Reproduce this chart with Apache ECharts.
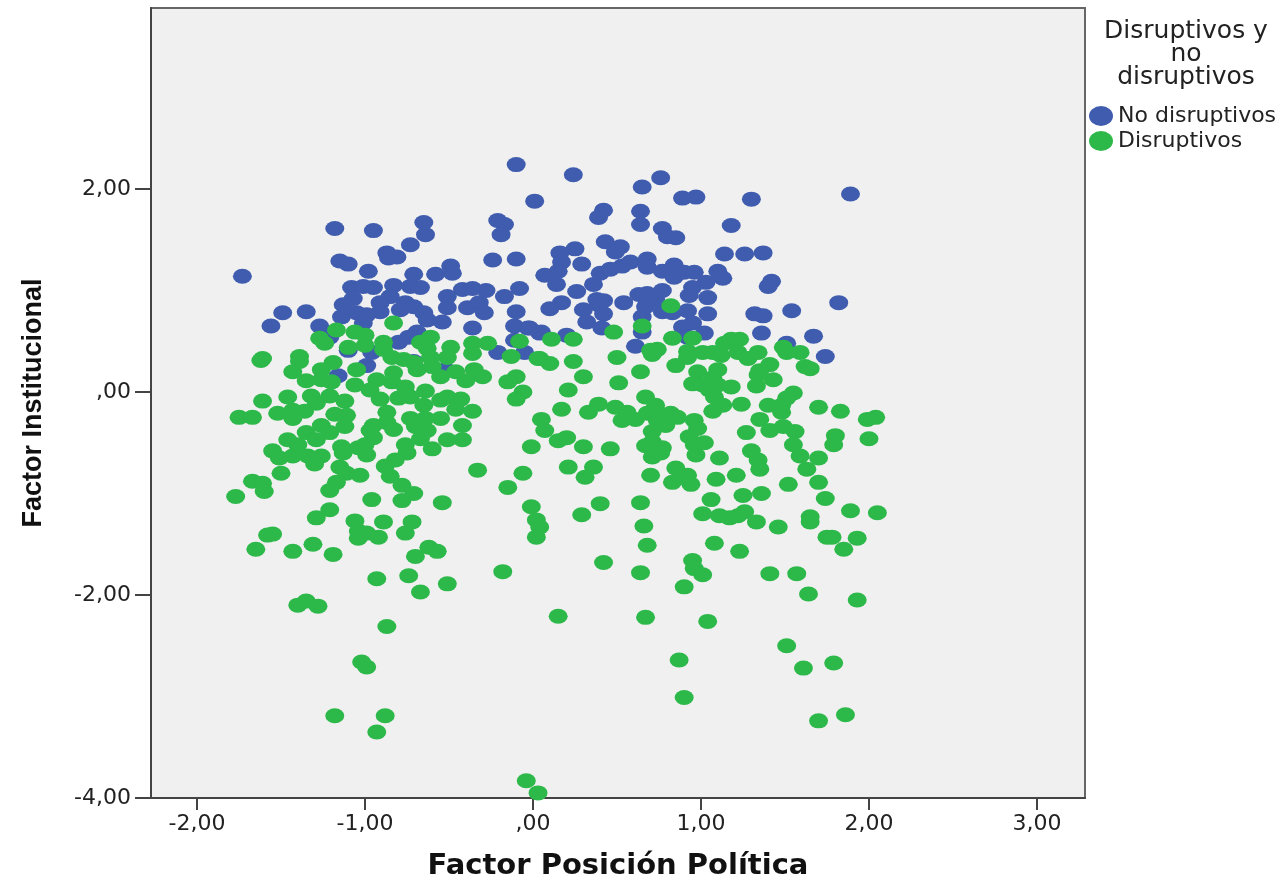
<!DOCTYPE html>
<html><head><meta charset="utf-8">
<style>html,body{margin:0;padding:0;background:#fff}#c{width:1286px;height:881px}</style>
<script src="https://cdn.jsdelivr.net/npm/echarts@6/dist/echarts.min.js"></script>
</head><body><div id="c"></div>
<script>
const xTicks=[-2,-1,0,1,2,3];
const yTicks=[-4,-2,0,2];
const tickText={'-4':'-4,00','-2':'-2,00','-1':'-1,00','0':',00','1':'1,00','2':'2,00','3':'3,00'};
const seriesNames=['No disruptivos','Disruptivos'];
const noDisruptivos=[[-0.10,2.24],[0.01,1.88],[-1.18,1.61],[-0.95,1.59],[-0.65,1.67],[-0.64,1.55],[-0.73,1.45],[-0.21,1.69],[-0.17,1.65],[-0.19,1.55],[-0.87,1.37],[-0.86,1.32],[-0.81,1.33],[-1.15,1.29],[-1.10,1.26],[-0.24,1.30],[-0.10,1.31],[-0.98,1.19],[-0.49,1.24],[-0.48,1.17],[-0.58,1.16],[-0.71,1.16],[-1.73,1.14],[-0.08,1.02],[-0.83,1.05],[-0.73,1.04],[-0.67,1.03],[-1.08,1.03],[-1.01,1.04],[-0.95,1.03],[-0.42,1.01],[-0.36,1.02],[-0.28,1.00],[-0.17,0.94],[-0.51,0.94],[-1.07,0.92],[-1.13,0.86],[-0.85,0.94],[-0.76,0.88],[-0.91,0.88],[-0.91,0.79],[-0.79,0.81],[-0.71,0.84],[-0.65,0.78],[-0.51,0.83],[-0.39,0.83],[-0.32,0.88],[-0.29,0.78],[-0.10,0.79],[-1.14,0.74],[-1.05,0.78],[-0.99,0.76],[-0.63,0.71],[-0.54,0.69],[-1.01,0.68],[-1.49,0.78],[-1.35,0.79],[-1.56,0.65],[-1.27,0.65],[-0.36,0.63],[-0.11,0.65],[-0.03,0.63],[0.04,0.58],[-0.69,0.59],[-0.74,0.54],[-0.11,0.51],[-0.80,0.49],[-0.21,0.39],[-0.05,0.39],[-1.10,0.41],[-0.96,0.39],[-0.99,0.26],[-1.16,0.16],[-0.52,0.22],[-0.71,0.30],[-1.21,0.54],
[0.24,2.14],[0.65,2.02],[0.76,2.11],[0.89,1.91],[0.97,1.92],[1.30,1.90],[1.89,1.95],[0.42,1.79],[0.39,1.72],[0.64,1.78],[0.64,1.65],[1.18,1.64],[0.77,1.61],[0.80,1.53],[0.85,1.52],[0.43,1.48],[0.52,1.43],[0.49,1.38],[0.25,1.41],[0.16,1.37],[0.17,1.28],[0.29,1.26],[1.14,1.36],[1.26,1.36],[1.37,1.37],[0.07,1.15],[0.15,1.19],[0.14,1.06],[0.26,0.99],[0.36,1.06],[0.40,1.17],[0.46,1.21],[0.53,1.24],[0.58,1.28],[0.68,1.31],[0.68,1.23],[0.77,1.19],[0.84,1.25],[0.84,1.13],[0.90,1.18],[0.96,1.18],[1.10,1.19],[1.13,1.12],[1.03,1.08],[0.95,1.03],[0.93,0.95],[1.04,0.93],[1.42,1.09],[1.40,1.04],[1.82,0.88],[0.77,1.00],[0.68,0.97],[0.63,0.96],[0.68,0.88],[0.73,0.91],[0.77,0.79],[0.83,0.78],[0.67,0.84],[0.92,0.80],[1.04,0.77],[0.38,0.91],[0.42,0.90],[0.39,0.86],[0.54,0.88],[0.17,0.88],[0.10,0.82],[0.30,0.81],[0.42,0.77],[0.32,0.69],[0.41,0.63],[0.65,0.74],[0.65,0.59],[0.89,0.64],[0.95,0.68],[1.02,0.58],[1.32,0.77],[1.37,0.75],[1.54,0.80],[1.36,0.58],[1.67,0.55],[1.51,0.48],[1.74,0.35],[0.61,0.45],[0.20,0.56],[0.05,0.59],[-0.02,0.63],[1.19,0.51],[0.92,0.54]];
const disruptivos=[[0.48,0.59],[0.65,0.65],[0.82,0.85],[0.11,0.52],[0.24,0.52],[0.83,0.53],[0.95,0.53],[1.14,0.48],[1.18,0.52],[1.23,0.52],[1.49,0.44],[1.59,0.39],[1.51,0.39],[0.70,0.41],[0.74,0.42],[0.71,0.37],[0.50,0.34],[0.04,0.33],[0.10,0.28],[0.24,0.30],[0.92,0.40],[0.92,0.34],[1.01,0.39],[1.07,0.39],[1.12,0.36],[1.22,0.39],[1.28,0.33],[1.34,0.39],[0.85,0.26],[0.64,0.20],[0.30,0.15],[0.51,0.09],[0.21,0.02],[0.98,0.20],[1.10,0.22],[1.07,0.14],[0.95,0.08],[1.01,0.07],[1.10,0.07],[1.18,0.05],[1.05,0.02],[1.08,-0.05],[1.13,-0.13],[1.24,-0.12],[1.07,-0.19],[1.41,0.27],[1.35,0.21],[1.43,0.12],[1.33,0.06],[1.34,0.17],[1.62,0.25],[1.65,0.23],[0.67,-0.05],[1.55,-0.01],[1.51,-0.06],[1.40,-0.13],[1.48,-0.13],[1.48,-0.20],[1.70,-0.15],[1.83,-0.19],[1.99,-0.27],[2.04,-0.25],[2.00,-0.46],[1.80,-0.43],[1.79,-0.52],[1.35,-0.27],[1.41,-0.38],[1.49,-0.34],[1.56,-0.39],[1.55,-0.52],[1.59,-0.63],[1.70,-0.65],[1.63,-0.76],[1.27,-0.40],[1.30,-0.58],[1.34,-0.67],[1.35,-0.76],[1.21,-0.82],[1.11,-0.65],[1.09,-0.86],[1.52,-0.91],[1.70,-0.89],[1.36,-1.00],[1.25,-1.02],[1.06,-1.06],[1.74,-1.05],
[0.49,-0.15],[0.39,-0.12],[0.33,-0.20],[0.17,-0.17],[0.05,-0.27],[0.07,-0.38],[0.20,-0.45],[0.15,-0.48],[0.30,-0.54],[0.46,-0.56],[-0.01,-0.54],[0.21,-0.74],[0.36,-0.74],[0.31,-0.84],[0.70,-0.82],[0.85,-0.75],[0.92,-0.82],[0.83,-0.89],[0.94,-0.91],[0.88,-0.84],[0.56,-0.20],[0.53,-0.28],[0.61,-0.27],[0.73,-0.13],[0.68,-0.21],[0.74,-0.20],[0.82,-0.21],[0.86,-0.25],[0.96,-0.28],[0.74,-0.28],[0.79,-0.33],[0.98,-0.36],[0.71,-0.39],[0.93,-0.44],[1.02,-0.50],[0.96,-0.52],[0.67,-0.53],[0.71,-0.49],[0.77,-0.55],[0.71,-0.64],[0.76,-0.60],[0.97,-0.62],
[-0.83,0.68],[-1.17,0.61],[-1.27,0.53],[-1.24,0.48],[-1.06,0.59],[-1.00,0.56],[-1.10,0.44],[-1.00,0.46],[-0.89,0.49],[-0.89,0.42],[-0.84,0.34],[-0.77,0.32],[-0.67,0.49],[-0.61,0.54],[-0.63,0.43],[-0.49,0.44],[-0.36,0.48],[-0.27,0.48],[-0.36,0.38],[-0.08,0.50],[-0.13,0.35],[0.03,0.33],[-0.51,0.34],[-0.61,0.34],[-1.62,0.31],[-1.61,0.33],[-1.39,0.35],[-1.39,0.30],[-1.19,0.29],[-1.26,0.22],[-1.43,0.20],[-1.05,0.22],[-1.35,0.11],[-1.26,0.12],[-1.20,0.10],[-0.69,0.22],[-0.71,0.29],[-0.60,0.25],[-0.83,0.19],[-0.46,0.20],[-0.55,0.15],[-0.35,0.22],[-0.30,0.15],[-0.40,0.11],[-0.10,0.15],[-0.15,0.10],[-0.06,0.00],[-0.10,-0.07],[-1.06,0.07],[-0.93,0.12],[-0.84,0.10],[-0.97,0.02],[-0.91,-0.07],[-0.76,0.05],[-0.64,0.01],[-0.80,-0.06],[-0.73,-0.05],[-0.65,-0.13],[-0.55,-0.08],[-0.51,-0.05],[-0.43,-0.07],[-0.46,-0.17],[-0.36,-0.19],[-0.55,-0.26],[-0.42,-0.33],[-0.42,-0.47],[-0.51,-0.47],[-0.60,-0.56],[-0.33,-0.77],[-0.06,-0.80],[-0.15,-0.94],[-1.61,-0.09],[-1.46,-0.05],[-1.32,-0.04],[-1.21,-0.04],[-1.12,-0.09],[-1.29,-0.11],[-1.36,-0.19],[-1.43,-0.18],[-1.52,-0.21],[-1.43,-0.26],[-1.75,-0.25],[-1.67,-0.25],[-1.18,-0.22],[-1.11,-0.23],[-1.26,-0.33],[-1.12,-0.34],[-1.35,-0.40],[-1.21,-0.40],[-1.46,-0.47],[-1.29,-0.47],[-1.40,-0.52],[-1.55,-0.58],[-1.51,-0.65],[-1.43,-0.63],[-1.26,-0.63],[-1.34,-0.63],[-1.30,-0.71],[-1.50,-0.80],[-0.87,-0.20],[-0.87,-0.30],[-0.95,-0.33],[-0.97,-0.38],[-0.83,-0.37],[-0.95,-0.45],[-1.00,-0.52],[-1.04,-0.55],[-1.14,-0.54],[-1.13,-0.60],[-0.99,-0.62],[-0.76,-0.52],[-0.75,-0.60],[-0.82,-0.67],[-0.88,-0.73],[-0.85,-0.83],[-0.73,-0.26],[-0.64,-0.26],[-0.70,-0.34],[-0.63,-0.38],[-0.67,-0.46],[-1.15,-0.74],[-1.11,-0.80],[-1.03,-0.82],[-1.17,-0.89],[-1.21,-0.97],[-1.67,-0.88],[-1.61,-0.90],[-1.60,-0.98],[-1.77,-1.03],[-0.96,-1.06],[-0.78,-0.92],[-0.71,-1.00],[-0.78,-1.07],[-0.54,-1.09],[-1.21,-1.16],[-0.01,-1.13],
[-1.29,-1.24],[-0.89,-1.28],[-0.72,-1.28],[-1.06,-1.27],[-1.04,-1.37],[-0.99,-1.39],[-0.92,-1.43],[-1.04,-1.44],[-0.76,-1.39],[-1.65,-1.55],[-1.58,-1.41],[-1.55,-1.40],[-1.43,-1.57],[-1.31,-1.50],[-1.19,-1.60],[-0.70,-1.62],[-0.62,-1.53],[-0.57,-1.57],[-0.93,-1.84],[-0.74,-1.81],[-0.51,-1.89],[-0.67,-1.97],[-1.40,-2.10],[-1.35,-2.06],[-1.28,-2.11],[-0.87,-2.31],[-1.02,-2.66],[-0.99,-2.71],[-1.18,-3.19],[-0.88,-3.19],[-0.93,-3.35],[-0.04,-3.83],[0.03,-3.95],
[0.02,-1.26],[0.04,-1.33],[0.02,-1.43],[-0.18,-1.77],[0.15,-2.21],[0.29,-1.21],[0.40,-1.10],[0.42,-1.68],[0.64,-1.09],[0.66,-1.32],[0.68,-1.51],[0.64,-1.78],[0.67,-2.22],[0.90,-1.92],[0.87,-2.64],[0.90,-3.01],[0.95,-1.66],[0.96,-1.74],[1.01,-1.80],[1.04,-2.26],[1.01,-1.20],[1.08,-1.49],[1.11,-1.22],[1.17,-1.24],[1.22,-1.22],[1.26,-1.18],[1.33,-1.28],[1.23,-1.57],[1.41,-1.79],[1.46,-1.33],[1.57,-1.79],[1.65,-1.23],[1.65,-1.28],[1.64,-1.99],[1.51,-2.50],[1.61,-2.72],[1.79,-2.67],[1.70,-3.24],[1.86,-3.18],[1.75,-1.43],[1.78,-1.43],[1.85,-1.55],[1.89,-1.17],[1.93,-1.44],[1.93,-2.05],[2.05,-1.19]];
const blue='#3f5cae', green='#2db84a', ink='#222';
const ellipse='path://M0,10 A10,10 0 1 1 20,10 A10,10 0 1 1 0,10 Z';
const font='"DejaVu Sans"';
const fmt=v=>tickText[String(Math.round(v))];
const axisBase={
  type:'value',
  splitLine:{show:false},
  axisLine:{show:true,onZero:false,lineStyle:{color:'#444',width:2}},
  nameLocation:'middle'
};
const chart=echarts.init(document.getElementById('c'),null,{renderer:'canvas'});
chart.setOption({
  animation:false,
  backgroundColor:'#fff',
  grid:{left:151,right:201,top:8,bottom:83,outerBoundsMode:'none',containLabel:false,show:true,backgroundColor:'#f0f0f0',borderColor:'#666',borderWidth:2},
  title:{text:'Disruptivos y\nno\ndisruptivos',left:1186,top:20,padding:0,textAlign:'center',
    textStyle:{fontFamily:font,fontWeight:'normal',fontSize:25,lineHeight:23,color:ink}},
  legend:{orient:'vertical',left:1089,top:105,padding:0,itemWidth:24,itemHeight:20,itemGap:3,
    icon:ellipse,symbolKeepAspect:false,data:seriesNames,selectedMode:false,
    textStyle:{fontFamily:font,fontSize:22,color:ink}},
  xAxis:Object.assign({},axisBase,{
    min:-2.274,max:3.286,name:'Factor Posición Política',nameGap:54,
    nameTextStyle:{fontFamily:font,fontSize:29,fontWeight:'bold',color:'#111'},
    axisTick:{show:true,customValues:xTicks,length:12,lineStyle:{color:'#444',width:2}},
    axisLabel:{customValues:xTicks,formatter:fmt,fontFamily:font,fontSize:22,color:ink,margin:15}
  }),
  yAxis:Object.assign({},axisBase,{
    min:-4,max:3.783,name:'Factor Institucional',nameGap:104,
    nameTextStyle:{fontFamily:'"Liberation Sans Narrow","Liberation Sans"',fontSize:27,fontWeight:'bold',color:'#111'},
    axisTick:{show:true,customValues:yTicks,length:16,lineStyle:{color:'#444',width:2}},
    axisLabel:{customValues:yTicks,formatter:fmt,fontFamily:font,fontSize:22,color:ink,margin:20,padding:[4,0,0,0]}
  }),
  series:[
    {name:seriesNames[0],type:'scatter',data:noDisruptivos,symbol:ellipse,symbolSize:[19,15],itemStyle:{color:blue,opacity:1}},
    {name:seriesNames[1],type:'scatter',data:disruptivos,symbol:ellipse,symbolSize:[19,15],itemStyle:{color:green,opacity:1}}
  ]
});
</script></body></html>
